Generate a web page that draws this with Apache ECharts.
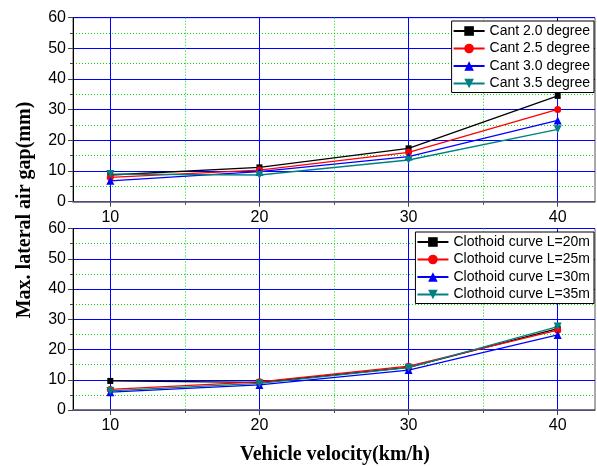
<!DOCTYPE html>
<html>
<head>
<meta charset="utf-8">
<script src="https://cdn.jsdelivr.net/npm/echarts@6/dist/echarts.min.js"></script>
<style>
  html, body { margin: 0; padding: 0; background: #fff; }
  #chart { width: 597px; height: 466px; }
</style>
</head>
<body>
<div id="chart"></div>
<script>
// Vehicle velocity (km/h) on the shared horizontal axis
const velocities = [10, 20, 30, 40];
const velocityTicks = [10, 20, 30, 40];
const velocityMinorTicks = [15, 25, 35];

// Upper panel: maximum lateral air gap (mm) for each cant angle
const cantNames = ['Cant 2.0 degree', 'Cant 2.5 degree', 'Cant 3.0 degree', 'Cant 3.5 degree'];
const cant20 = [8.7, 11.2, 17.4, 34.5];
const cant25 = [7.9, 10.3, 16.1, 30.1];
const cant30 = [6.8, 9.8, 14.7, 26.5];
const cant35 = [9.0, 8.7, 13.6, 23.6];

// Lower panel: maximum lateral air gap (mm) for each clothoid length
const clothoidNames = ['Clothoid curve L=20m', 'Clothoid curve L=25m', 'Clothoid curve L=30m', 'Clothoid curve L=35m'];
const clothoid20 = [9.6, 9.1, 14.1, 26.9];
const clothoid25 = [6.8, 9.3, 14.5, 26.4];
const clothoid30 = [5.9, 8.3, 13.2, 24.8];
const clothoid35 = [6.3, 8.8, 14.0, 27.6];

const colors = ['#000000', '#ff0000', '#0000ff', '#008080'];
const symbols = ['rect', 'circle', 'triangle', 'triangle'];
const rotations = [0, 0, 0, 180];
const symbolSizes = [6, 7, 8, 8];

const labelFont = { fontFamily: 'Liberation Sans, Arial, sans-serif', fontSize: 16, color: '#000' };
const blueGrid = { color: '#0000ff', width: 1, type: 'solid' };
const greenGrid = { color: '#00dd00', width: 1, type: [1, 2] };

function pairs(values) {
  return velocities.map((v, i) => [v, values[i]]);
}

function makeSeries(names, lists, axisIndex) {
  return lists.map((vals, k) => ({
    name: names[k],
    type: 'line',
    xAxisIndex: axisIndex * 2,
    yAxisIndex: axisIndex,
    data: pairs(vals),
    symbol: symbols[k],
    symbolRotate: rotations[k],
    symbolSize: symbolSizes[k],
    color: colors[k],
    lineStyle: { color: colors[k], width: 1.3 },
    itemStyle: { color: colors[k] },
    z: 5 + k
  }));
}

function xAxes(gridIndex) {
  return [
    {
      type: 'value', gridIndex: gridIndex, min: 7.5, max: 42.5,
      axisLine: { show: true, lineStyle: { color: '#666', width: 1.5 } },
      axisTick: { show: true, customValues: velocityTicks, length: 5, lineStyle: { color: '#444' } },
      axisLabel: { customValues: velocityTicks, margin: 8, ...labelFont },
      splitLine: { show: true, lineStyle: blueGrid },
      z: 3
    },
    {
      type: 'value', gridIndex: gridIndex, min: 7.5, max: 42.5, position: 'bottom',
      axisLine: { show: false },
      axisTick: { show: true, customValues: velocityMinorTicks, length: 3, lineStyle: { color: '#444' } },
      axisLabel: { show: false },
      splitLine: { show: true, lineStyle: greenGrid },
      z: 2
    }
  ];
}

function yAxis(gridIndex) {
  return {
    type: 'value', gridIndex: gridIndex, min: 0, max: 60, interval: 10,
    axisLine: { show: true, lineStyle: { color: '#000', width: 1 } },
    axisTick: { show: true, length: 5, lineStyle: { color: '#444' } },
    minorTick: { show: true, splitNumber: 2, length: 3, lineStyle: { color: '#444' } },
    axisLabel: { margin: 7, ...labelFont },
    splitLine: { show: true, lineStyle: blueGrid },
    minorSplitLine: { show: true, lineStyle: greenGrid }
  };
}

function legend(names, top) {
  return {
    data: names,
    orient: 'vertical',
    right: 3,
    top: top,
    itemWidth: 31,
    itemHeight: 12,
    itemGap: 3.5,
    padding: [3, 4, 2, 1],
    backgroundColor: '#fff',
    borderColor: '#000',
    borderWidth: 1,
    borderRadius: 0,
    textStyle: { fontFamily: 'Liberation Sans, Arial, sans-serif', fontSize: 14, color: '#000' }
  };
}

const chart = echarts.init(document.getElementById('chart'), null, { renderer: 'canvas' });

chart.setOption({
  animation: false,
  backgroundColor: '#fff',
  grid: [
    { left: 73, top: 17.7, width: 522, height: 184, show: true, borderColor: '#555', borderWidth: 1, backgroundColor: 'transparent' },
    { left: 73, top: 228.5, width: 522, height: 181.5, show: true, borderColor: '#555', borderWidth: 1, backgroundColor: 'transparent' }
  ],
  xAxis: [...xAxes(0), ...xAxes(1)],
  yAxis: [yAxis(0), yAxis(1)],
  legend: [legend(cantNames, 21), legend(clothoidNames, 232)],
  series: [
    ...makeSeries(cantNames, [cant20, cant25, cant30, cant35], 0),
    ...makeSeries(clothoidNames, [clothoid20, clothoid25, clothoid30, clothoid35], 1)
  ],
  graphic: [
    {
      type: 'text', x: 25, y: 210, rotation: Math.PI / 2,
      style: {
        text: 'Max. lateral air gap(mm)', textAlign: 'center', textVerticalAlign: 'middle',
        font: 'bold 20px "Liberation Serif", "Times New Roman", serif', fill: '#000'
      }
    },
    {
      type: 'text', x: 335, y: 455,
      style: {
        text: 'Vehicle velocity(km/h)', textAlign: 'center', textVerticalAlign: 'middle',
        font: 'bold 20px "Liberation Serif", "Times New Roman", serif', fill: '#000'
      }
    }
  ]
});
</script>
</body>
</html>
